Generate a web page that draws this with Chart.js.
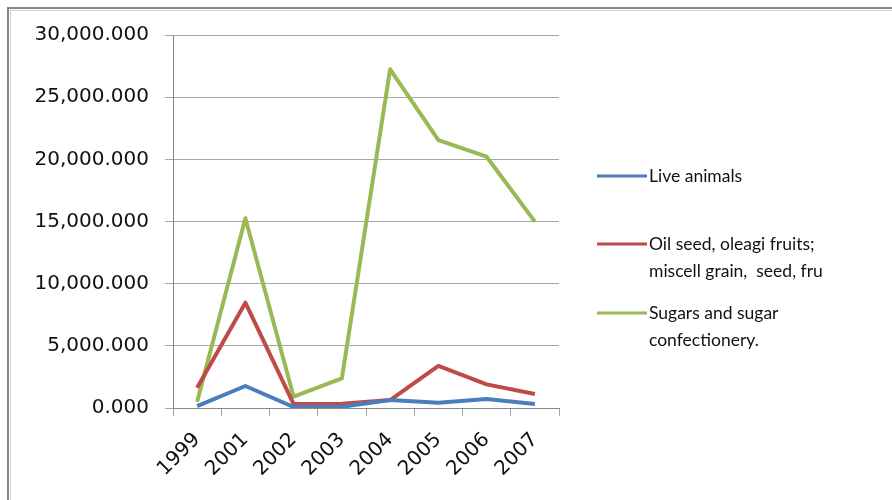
<!DOCTYPE html>
<html>
<head>
<meta charset="utf-8">
<script src="https://cdn.jsdelivr.net/npm/chart.js@4/dist/chart.umd.min.js"></script>
<style>
  html, body { margin: 0; padding: 0; background: #fff; }
  #wrap { width: 892px; height: 500px; position: relative; }
</style>
</head>
<body>
<div id="wrap"><canvas id="c" width="892" height="500"></canvas></div>
<script>
// Years on the category axis
const years = ['1999', '2001', '2002', '2003', '2004', '2005', '2006', '2007'];

// Import values per product group
const liveAnimals = [150, 1770, 80, 100, 640, 430, 720, 320];
const oilSeed     = [1630, 8470, 320, 350, 640, 3380, 1900, 1130];
const sugars      = [500, 15260, 910, 2390, 27240, 21550, 20210, 14990];

// Series names (line breaks as shown in the legend)
const seriesNames = [
  'Live animals',
  'Oil seed, oleagi fruits;\nmiscell grain,  seed, fru',
  'Sugars and sugar\nconfectionery.'
];

// Value axis ticks
const yMin = 0, yMax = 30000, yStep = 5000;

const colors = ['#4a7ebb', '#be4b48', '#98b954'];
const gridColor = '#a6a6a6';
const axisFont = { family: 'DejaVu Sans', size: 20 };

const fmt = new Intl.NumberFormat('en-US', { minimumFractionDigits: 3, maximumFractionDigits: 3 });

// Outer frame around the whole chart
const framePlugin = {
  id: 'frame',
  beforeDraw(chart) {
    const ctx = chart.ctx;
    ctx.save();
    ctx.fillStyle = '#ffffff';
    ctx.fillRect(0, 0, chart.width, chart.height);
    ctx.strokeStyle = '#d0d0d0';
    ctx.lineWidth = 1;
    ctx.strokeRect(10.5, 10.5, chart.width + 20, chart.height + 20);
    ctx.strokeStyle = '#868686';
    ctx.lineWidth = 2;
    ctx.strokeRect(8, 8, chart.width + 20, chart.height + 20);
    ctx.restore();
  }
};

// Legend on the right with wrapped series names
const sideLegend = {
  id: 'sideLegend',
  afterDraw(chart) {
    const ctx = chart.ctx;
    const rowY = [176, 244, 313];
    const lineH = 27;
    ctx.save();
    ctx.font = '17.5px Lato';
    ctx.fillStyle = '#111';
    ctx.textBaseline = 'middle';
    ctx.textAlign = 'left';
    chart.data.datasets.forEach((ds, i) => {
      const y = rowY[i];
      ctx.strokeStyle = ds.borderColor;
      ctx.lineWidth = 3;
      ctx.beginPath();
      ctx.moveTo(597, y);
      ctx.lineTo(647, y);
      ctx.stroke();
      ds.label.split('\n').forEach((t, k) => {
        ctx.fillText(t, 649, y + k * lineH);
      });
    });
    ctx.restore();
  }
};

new Chart(document.getElementById('c'), {
  type: 'line',
  data: {
    labels: years,
    datasets: [liveAnimals, oilSeed, sugars].map((vals, i) => ({
      label: seriesNames[i],
      data: vals,
      borderColor: colors[i],
      backgroundColor: colors[i],
      borderWidth: 4,
      pointRadius: 0,
      tension: 0,
      borderJoinStyle: 'round',
      borderCapStyle: 'butt'
    }))
  },
  options: {
    responsive: false,
    animation: false,
    devicePixelRatio: 1,
    layout: { padding: { left: 0, right: 333, top: 35, bottom: 0 } },
    plugins: {
      legend: { display: false },
      tooltip: { enabled: false }
    },
    scales: {
      x: {
        offset: true,
        grid: {
          offset: true,
          drawOnChartArea: false,
          drawTicks: true,
          tickLength: 8,
          color: gridColor
        },
        border: { color: '#868686', width: 1 },
        ticks: {
          minRotation: 45,
          maxRotation: 45,
          padding: 12,
          color: '#111',
          font: axisFont
        },
        afterFit(scale) { scale.height = 92; }
      },
      y: {
        min: yMin,
        max: yMax,
        grid: {
          color: gridColor,
          tickLength: 8
        },
        border: { color: '#868686', width: 1 },
        ticks: {
          stepSize: yStep,
          padding: 16,
          color: '#111',
          font: axisFont,
          callback: (v) => fmt.format(v)
        },
        afterFit(scale) { scale.width = 173; }
      }
    }
  },
  plugins: [framePlugin, sideLegend]
});
</script>
</body>
</html>
